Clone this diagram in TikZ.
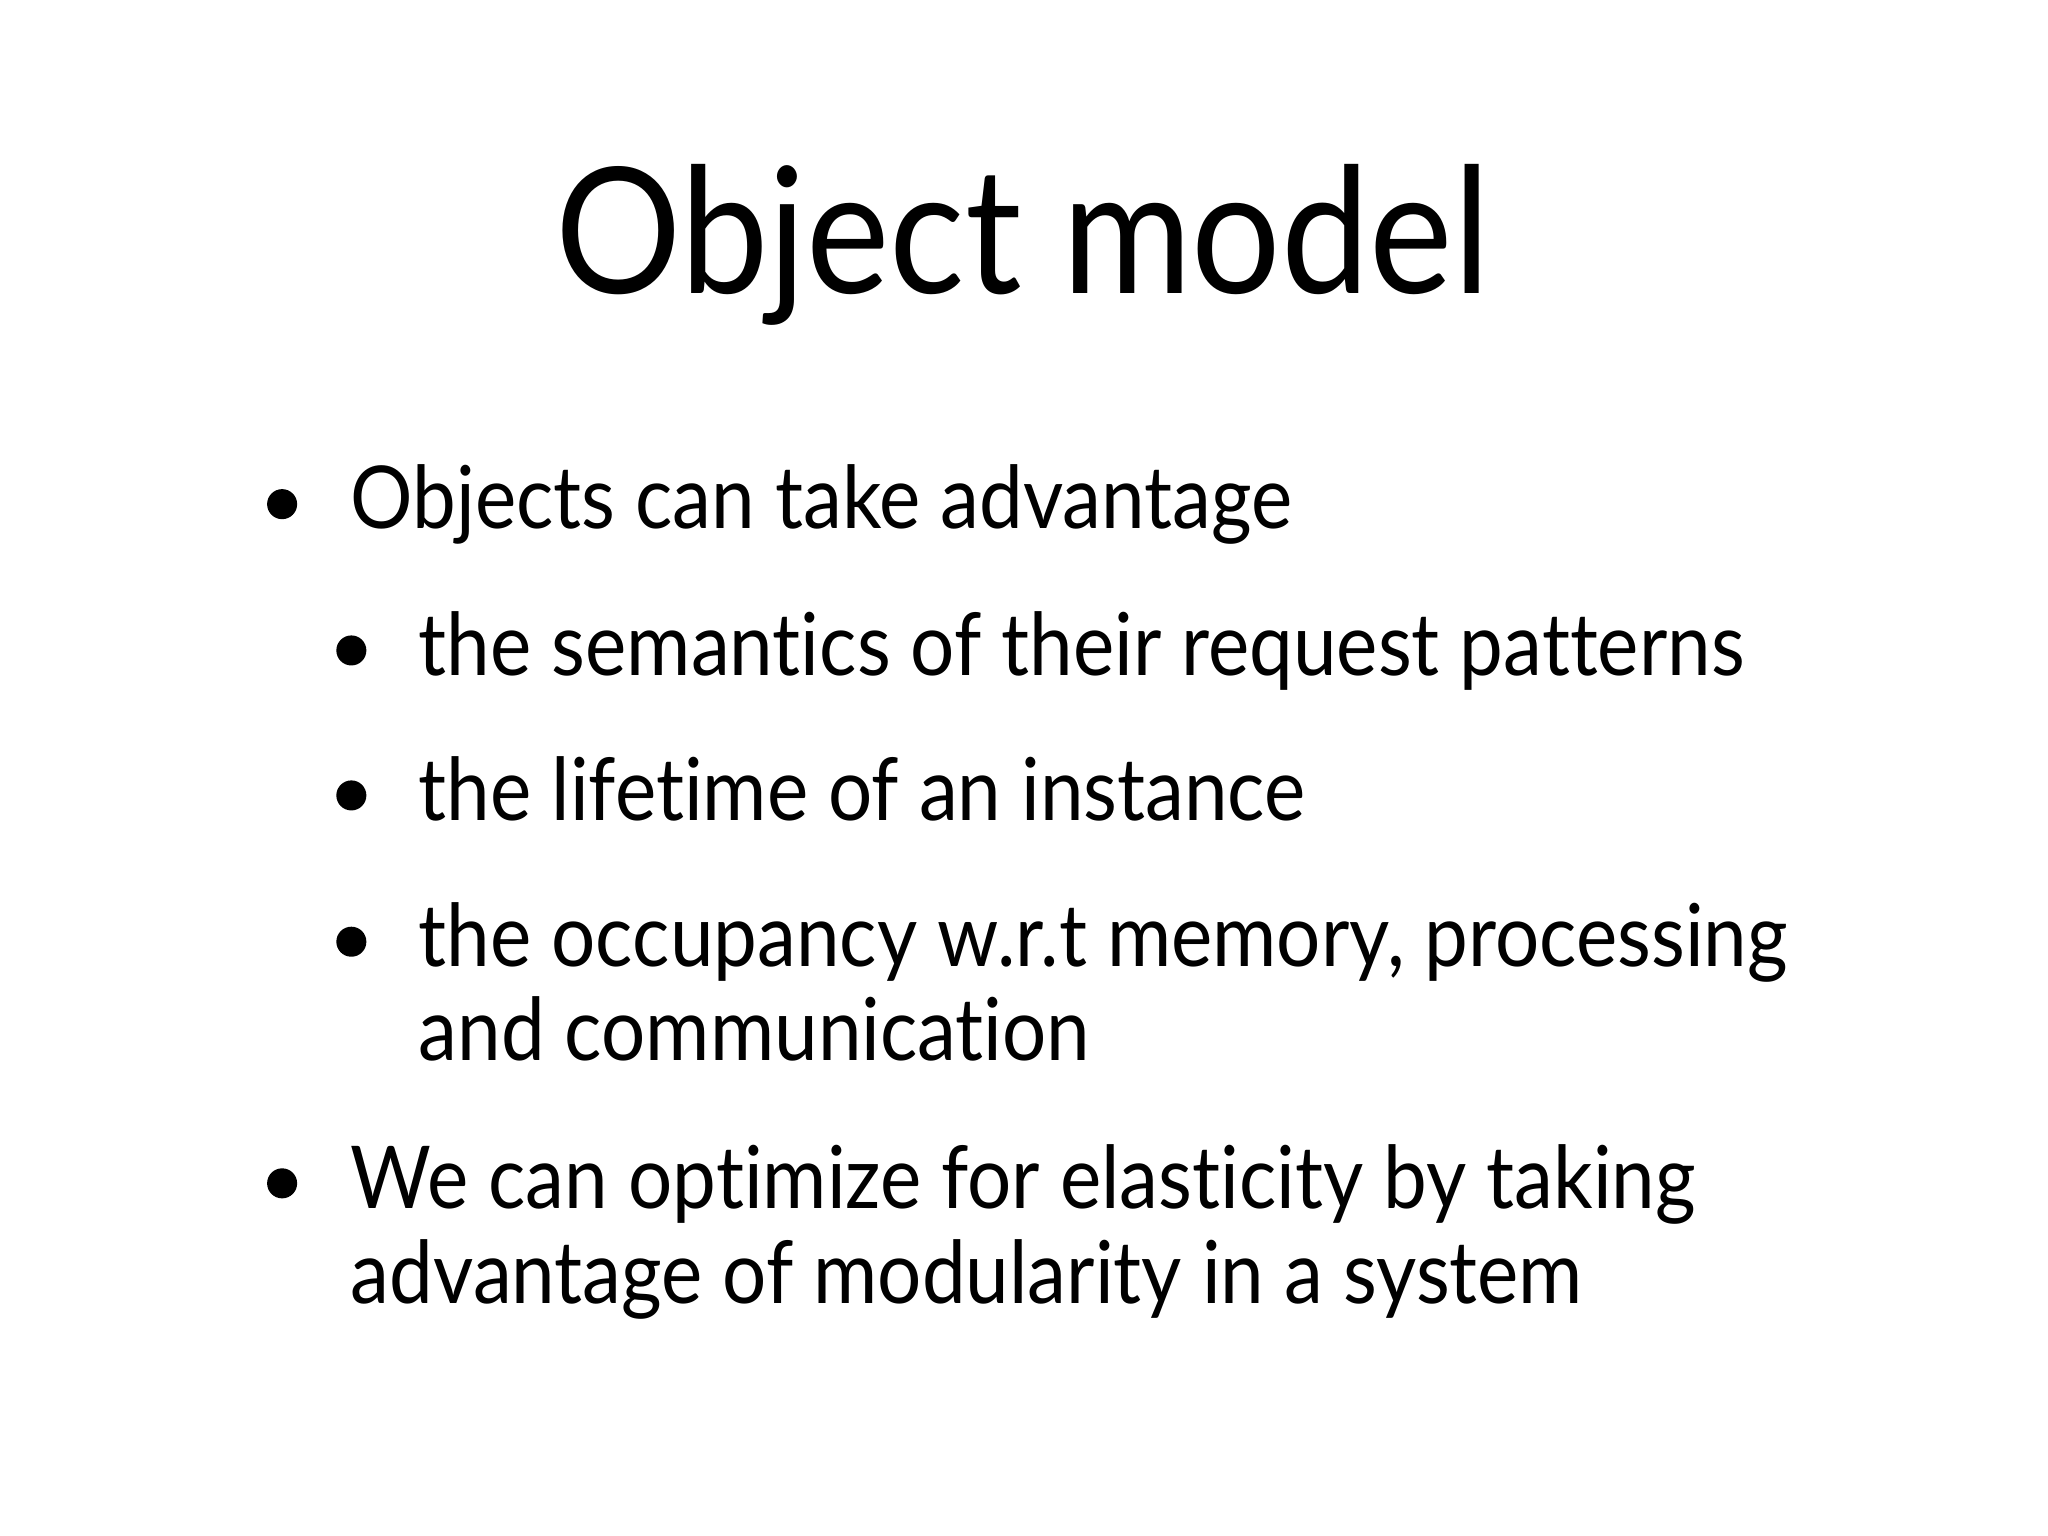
\documentclass[tikz,border=0pt]{standalone}
\usepackage{fontspec}
\setmainfont{Lato}[Ligatures=NoCommon,FakeStretch=0.9]
\begin{document}
\begin{tikzpicture}[x=1mm,y=-1mm,
  t/.style={anchor=base west,inner sep=0pt,font=\fontsize{18.9}{23}\selectfont},
  bl/.style={circle,fill=black,inner sep=0pt,minimum size=2.3mm}]
\useasboundingbox (0,0) rectangle (156.8,117.6);
\node[anchor=base,inner sep=0pt,font=\fontsize{38.2}{42}\selectfont] (title) at (78.3,22.5) {Object model};
\node[bl] (b1) at (21.6,38.6) {};
\node[t] (l1) at (26.8,40.5) {Objects can take advantage};
\node[bl] (b2) at (26.9,49.8) {};
\node[t] (l2) at (32.0,51.7) {the semantics of their request patterns};
\node[bl] (b3) at (26.9,60.9) {};
\node[t] (l3) at (32.0,62.8) {the lifetime of an instance};
\node[bl] (b4) at (26.9,72.1) {};
\node[t] (l4) at (32.0,74.0) {the occupancy w.r.t memory, processing};
\node[t] (l5) at (32.0,81.2) {and communication};
\node[bl] (b5) at (21.6,90.6) {};
\node[t] (l6) at (26.8,92.5) {We can optimize for elasticity by taking};
\node[t] (l7) at (26.8,99.8) {advantage of modularity in a system};
\end{tikzpicture}
\end{document}
